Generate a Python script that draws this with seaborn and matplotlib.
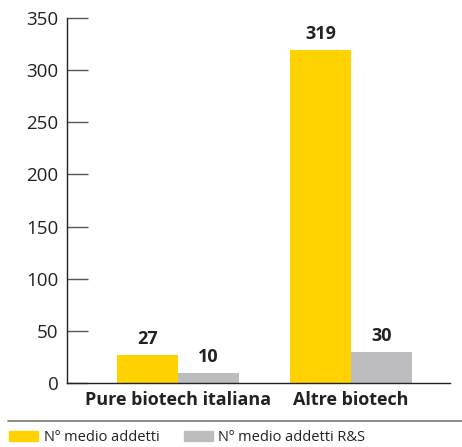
"""Numero medio di addetti: pure biotech italiana vs altre biotech."""

import matplotlib
matplotlib.use('Agg')
import matplotlib.pyplot as plt
import matplotlib.patches as mpatches
from matplotlib.lines import Line2D
import seaborn as sns
import pandas as pd

# Data
categories = ['Pure biotech italiana', 'Altre biotech']
series = ['Nº medio addetti', 'Nº medio addetti R&S']
addetti = [27, 319]
addetti_rs = [10, 30]
yticks = [0, 50, 100, 150, 200, 250, 300, 350]

YELLOW = '#FFD200'
GREY = '#BDBDBF'

df = pd.DataFrame({
    'categoria': categories * 2,
    'serie': [series[0]] * 2 + [series[1]] * 2,
    'valore': addetti + addetti_rs,
})

sns.set_theme(style="white")
plt.rcParams['font.family'] = ['Open Sans', 'DejaVu Sans']

fig = plt.figure(figsize=(4.62, 4.47), dpi=100)
ax = fig.add_axes([0.145, 0.143, 0.829, 0.817])

sns.barplot(data=df, x='categoria', y='valore', hue='serie',
            palette=[YELLOW, GREY], width=0.705, gap=0, saturation=1,
            errorbar=None, legend=False, linewidth=0, ax=ax)

for cont in ax.containers:
    for b in cont:
        ax.annotate(f'{int(b.get_height())}',
                    (b.get_x() + b.get_width() / 2, b.get_height()),
                    xytext=(0, 5), textcoords='offset points',
                    ha='center', va='bottom', fontsize=13,
                    fontweight='bold', color='#222222')

ax.set_xlim(-0.642, 1.572)
ax.set_ylim(0, 350)
ax.set_yticks(yticks)
ax.set_xlabel('')
ax.set_ylabel('')
ax.tick_params(axis='y', left=True, direction='in', length=15, width=1,
               color='#555555', labelsize=13.5, labelcolor='#222222', pad=6)
ax.tick_params(axis='x', length=0, labelsize=13, labelcolor='#222222', pad=6)
for lab in ax.get_xticklabels():
    lab.set_fontweight('bold')
sns.despine(ax=ax)
for s in ('left', 'bottom'):
    ax.spines[s].set_color('#222222')
    ax.spines[s].set_linewidth(1)

# separator line and legend
fig.add_artist(Line2D([0.017, 1.0], [0.058, 0.058], color='#777777', linewidth=1.2))
handles = [mpatches.Patch(color=YELLOW), mpatches.Patch(color=GREY)]
fig.legend(handles, series, loc='lower left', bbox_to_anchor=(-0.008, -0.026),
           ncol=2, frameon=False, fontsize=10.5, handlelength=1.95,
           handleheight=0.7, handletextpad=0.4, columnspacing=1.7,
           labelcolor='#222222')

fig.savefig('out.png', dpi=100, facecolor='white')
